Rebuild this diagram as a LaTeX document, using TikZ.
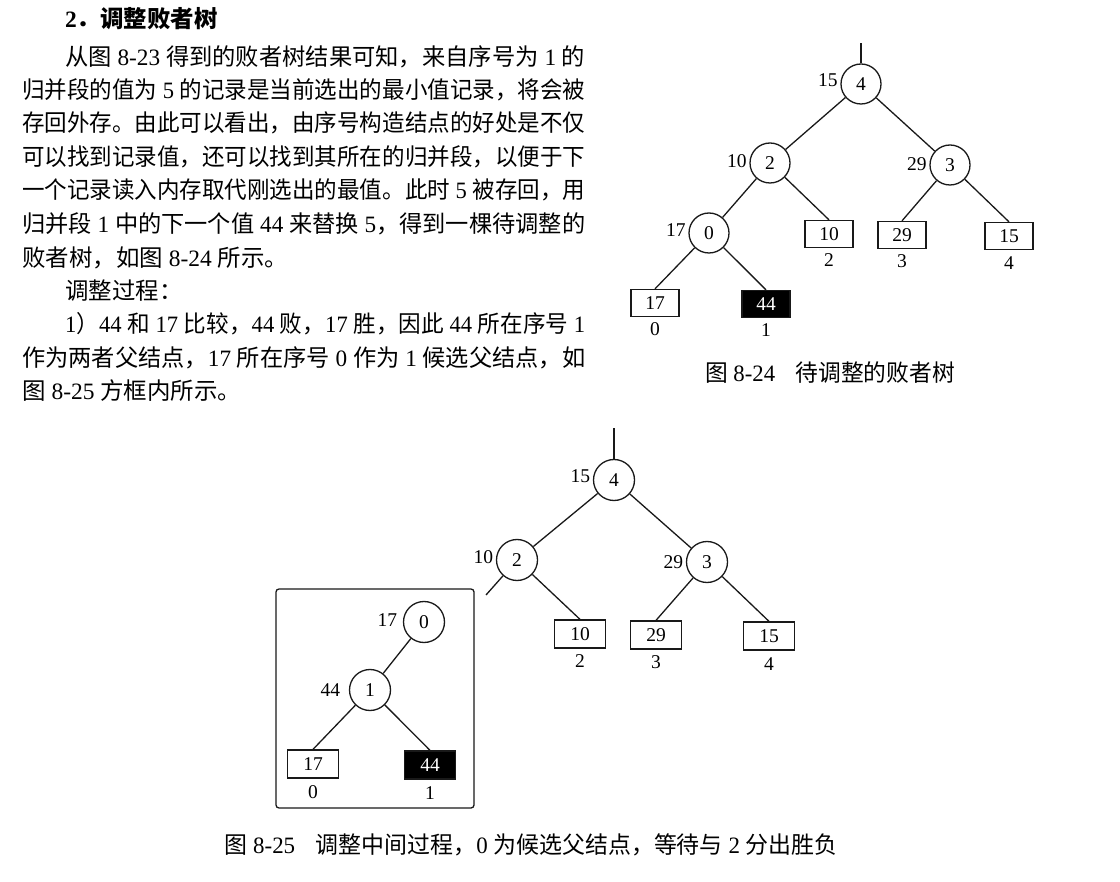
\documentclass[tikz,border=0pt]{standalone}
\usepackage{fontspec}
\usepackage{graphicx}
\setmainfont{Liberation Serif}
\newfontfamily\cjk{Noto Sans CJK SC}
\newcommand\zh[1]{{\cjk #1}}
\newcommand\bodyfont{\fontsize{23.46pt}{28pt}\selectfont}
\newcommand\treefont{\fontsize{19.5pt}{22pt}\selectfont}
\newcommand\jline[2]{\resizebox{#1}{\height}{\bodyfont #2}}
\begin{document}
\begin{tikzpicture}[x=1pt,y=-1pt,
  ink/.style={line width=1.3pt,draw=black!90},
  circ/.style={circle,ink,minimum size=40pt,inner sep=0pt,font=\treefont},
  circb/.style={circ,minimum size=41pt},
  leaf/.style={rectangle,ink,minimum width=48pt,minimum height=27pt,inner sep=0pt,font=\treefont},
  leafb/.style={leaf,minimum width=51pt,minimum height=28pt},
  dark/.style={fill=black,text=white},
  lbl/.style={inner sep=2.5pt,font=\treefont,anchor=east},
  idx/.style={inner sep=0pt,font=\treefont},
  edge/.style={ink},
  txt/.style={inner sep=0pt,anchor=west,font=\bodyfont},
  captext/.style={inner sep=0pt,font=\bodyfont}]
\useasboundingbox[fill=white] (0,0) rectangle (1120,882);

% ---------------- text block ----------------
\node[txt] (t0) at (65,19) {\bfseries 2\zh{．调整败者树}};
\node[txt] (t1) at (65,57) {\jline{520pt}{\zh{从图} 8-23 \zh{得到的败者树结果可知，来自序号为} 1 \zh{的}}};
\node[txt] (t2) at (22,90) {\jline{563pt}{\zh{归并段的值为} 5 \zh{的记录是当前选出的最小值记录，将会被}}};
\node[txt] (t3) at (22,123) {\jline{563pt}{\zh{存回外存。由此可以看出，由序号构造结点的好处是不仅}}};
\node[txt] (t4) at (22,157) {\jline{563pt}{\zh{可以找到记录值，还可以找到其所在的归并段，以便于下}}};
\node[txt] (t5) at (22,190) {\jline{563pt}{\zh{一个记录读入内存取代刚选出的最值。此时} 5 \zh{被存回，用}}};
\node[txt] (t6) at (22,224) {\jline{563pt}{\zh{归并段} 1 \zh{中的下一个值} 44 \zh{来替换} 5\zh{，得到一棵待调整的}}};
\node[txt] (t7) at (22,258) {\zh{败者树，如图} 8-24 \zh{所示。}};
\node[txt] (t8) at (65,291) {\zh{调整过程：}};
\node[txt] (t9) at (65,324) {\jline{520pt}{1\zh{）}44 \zh{和} 17 \zh{比较，}44 \zh{败，}17 \zh{胜，因此} 44 \zh{所在序号} 1}};
\node[txt] (t10) at (22,358) {\jline{563pt}{\zh{作为两者父结点，}17 \zh{所在序号} 0 \zh{作为} 1 \zh{候选父结点，如}}};
\node[txt] (t11) at (22,391) {\zh{图} 8-25 \zh{方框内所示。}};

% ---------------- figure 8-24 ----------------
\coordinate (A4top) at (861,43);
\node[circ] (A4) at (861,84) {4};
\node[circ] (A2) at (770,163) {2};
\node[circ] (A3) at (950,165) {3};
\node[circ] (A0) at (709,233) {0};
\node[leaf] (AL2) at (829,234) {10};
\node[leaf] (AL3) at (902,235) {29};
\node[leaf] (AL4) at (1009,236) {15};
\node[leaf] (AL0) at (655,303) {17};
\node[leaf,dark] (AL1) at (766,304) {44};

\node[lbl] (lA4) at ([yshift=4pt]A4.west) {15};
\node[lbl] (lA2) at ([yshift=2pt]A2.west) {10};
\node[lbl] (lA3) at ([yshift=1pt]A3.west) {29};
\node[lbl] (lA0) at ([yshift=3pt]A0.west) {17};
\node[idx] (iAL2) at ([yshift=-12pt]AL2.south) {2};
\node[idx] (iAL3) at ([yshift=-12pt]AL3.south) {3};
\node[idx] (iAL4) at ([yshift=-13pt]AL4.south) {4};
\node[idx] (iAL0) at ([yshift=-12pt]AL0.south) {0};
\node[idx] (iAL1) at ([yshift=-12pt]AL1.south) {1};

\draw[edge] (A4.north) -- (A4top);
\draw[edge] (A4) -- (A2);
\draw[edge] (A4) -- (A3);
\draw[edge] (A2) -- (A0);
\draw[edge] (A2) -- (AL2.north);
\draw[edge] (A3) -- (AL3.north);
\draw[edge] (A3) -- (AL4.north);
\draw[edge] (A0) -- (AL0.north);
\draw[edge] (A0) -- (AL1.north);

\node[captext] (cap1) at (830,373) {\jline{250pt}{\zh{图} 8-24\hspace{0.9em}\zh{待调整的败者树}}};

% ---------------- figure 8-25 ----------------
\coordinate (B4top) at (614,428);
\coordinate (Bstub) at (486,595);
\node[circb] (B4) at (614,480) {4};
\node[circb] (B2) at (517,560) {2};
\node[circb] (B3) at (707,562) {3};
\node[leafb] (BL2) at (580,634) {10};
\node[leafb] (BL3) at (656,635) {29};
\node[leafb] (BL4) at (769,636) {15};

\node[lbl] (lB4) at ([yshift=4pt]B4.west) {15};
\node[lbl] (lB2) at ([yshift=3pt]B2.west) {10};
\node[lbl] (lB3) at ([yshift=0pt]B3.west) {29};
\node[idx] (iBL2) at ([yshift=-12pt]BL2.south) {2};
\node[idx] (iBL3) at ([yshift=-12pt]BL3.south) {3};
\node[idx] (iBL4) at ([yshift=-13pt]BL4.south) {4};

\draw[edge] (B4.north) -- (B4top);
\draw[edge] (B4) -- (B2);
\draw[edge] (B4) -- (B3);
\draw[edge] (B2) -- (Bstub);
\draw[edge] (B2) -- (BL2.north);
\draw[edge] (B3) -- (BL3.north);
\draw[edge] (B3) -- (BL4.north);

% inset frame
\draw[ink,rounded corners=3pt] (276,589) rectangle (474,808);
\node[circb] (C0) at (424,622) {0};
\node[circb] (C1) at (370,690) {1};
\node[leafb] (CL0) at (313,764) {17};
\node[leafb,dark] (CL1) at (430,765) {44};
\node[lbl] (lC0) at ([xshift=-3pt,yshift=2pt]C0.west) {17};
\node[lbl] (lC1) at ([xshift=-6pt]C1.west) {44};
\node[idx] (iCL0) at ([yshift=-13pt]CL0.south) {0};
\node[idx] (iCL1) at ([yshift=-13pt]CL1.south) {1};
\draw[edge] (C0) -- (C1);
\draw[edge] (C1) -- (CL0.north);
\draw[edge] (C1) -- (CL1.north);

\node[captext] (cap2) at (531,845) {\jline{613pt}{\zh{图} 8-25\hspace{0.9em}\zh{调整中间过程，}0 \zh{为候选父结点，等待与} 2 \zh{分出胜负}}};
\end{tikzpicture}
\end{document}
